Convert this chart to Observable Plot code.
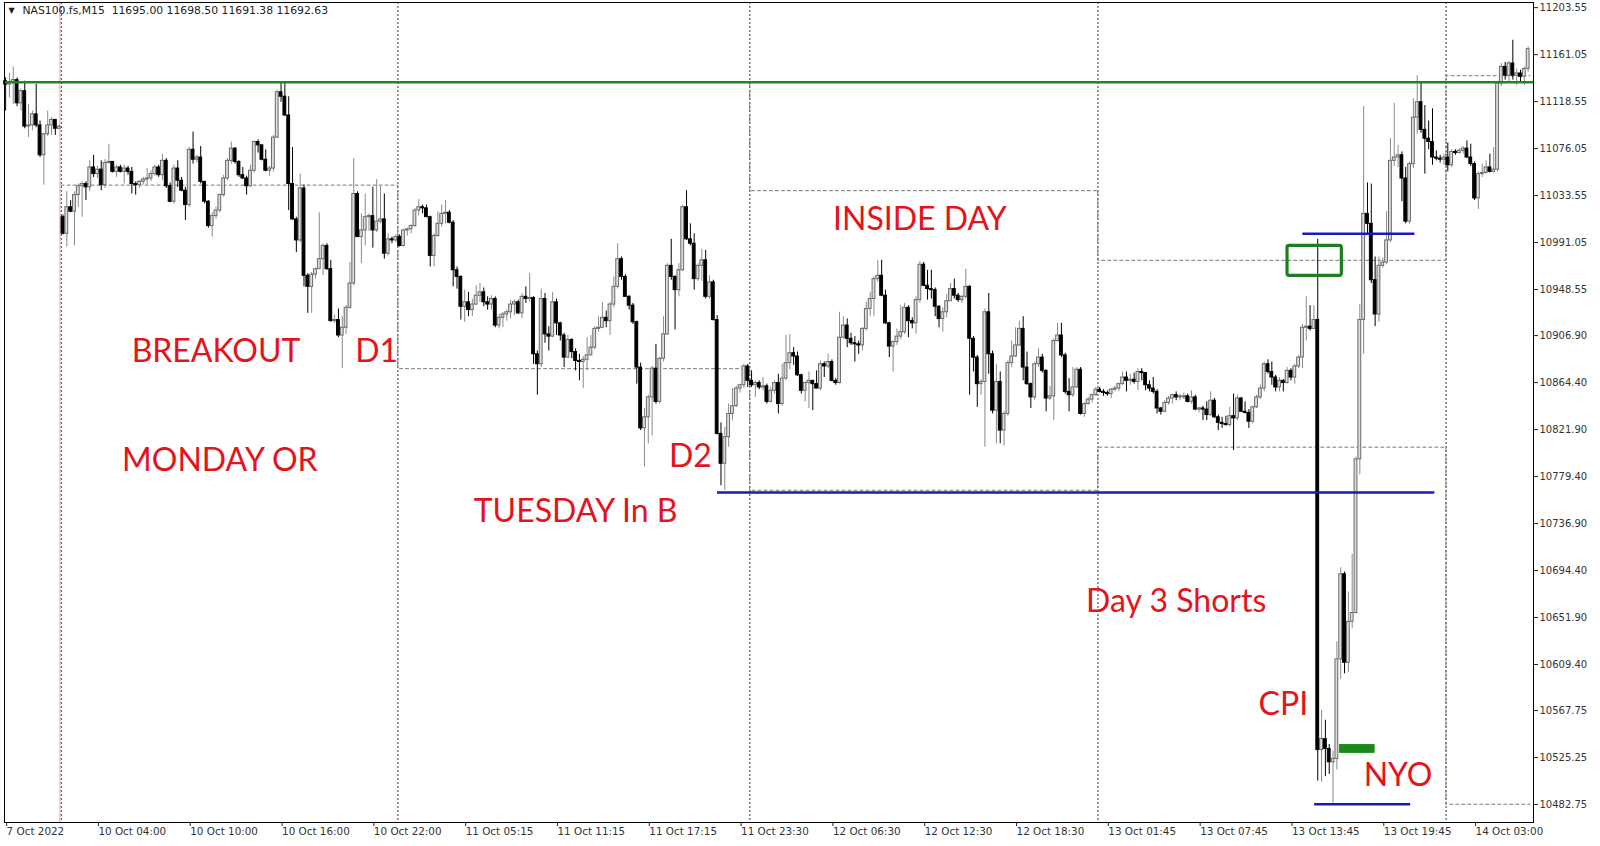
<!DOCTYPE html>
<html>
<head>
<meta charset="utf-8">
<script src="https://cdn.jsdelivr.net/npm/d3@7"></script>
<script src="https://cdn.jsdelivr.net/npm/@observablehq/plot@0.6"></script>
<style>
  html, body { margin: 0; padding: 0; background: #fff; }
  #chart { width: 1600px; height: 846px; }
</style>
</head>
<body>
<div id="chart"></div>
<script>
// ---------- DATA (NAS100 M15, [open, high, low, close]) ----------
const fri7 = [
 [11137,11140,11110,11134],[11134,11144,11122,11136],[11136,11150,11116,11138],[11138,11140,11114,11117],
 [11117,11130,11110,11128],[11128,11137,11094,11096],[11096,11116,11086,11097],[11097,11110,11092,11107],
 [11107,11134,11095,11097],[11097,11101,11068,11070],[11070,11090,11043,11089],[11089,11110,11087,11097],
 [11097,11104,11088,11102],[11102,11102,11088,11094],[11094,11097,11093,11096]
];
const mon10 = [
 [11014,11016,10998,10999],[10999,11037,10987,11023],[11023,11029,11018,11019],[11019,11037,10988,11034],
 [11034,11044,11023,11042],[11042,11046,11014,11044],[11044,11046,11029,11041],[11041,11065,11037,11059],
 [11059,11070,11050,11053],[11053,11060,11049,11057],[11057,11065,11038,11043],[11043,11066,11040,11063],
 [11063,11080,11062,11064],[11064,11064,11054,11055],[11055,11061,11050,11059],[11059,11061,11054,11055],
 [11055,11061,11044,11058],[11058,11060,11052,11055],[11055,11059,11035,11044],[11044,11046,11034,11043],
 [11043,11047,11040,11046],[11046,11050,11043,11048],[11048,11058,11043,11049],[11049,11056,11046,11053],
 [11053,11061,11051,11059],[11059,11061,11050,11052],[11052,11071,11047,11065],[11065,11067,11040,11042],
 [11042,11045,11027,11028],[11028,11061,11026,11058],[11058,11065,11041,11047],[11047,11050,11037,11038],
 [11038,11041,11011,11025],[11025,11077,11023,11075],[11075,11091,11062,11066],[11066,11070,11063,11068],
 [11068,11078,11044,11046],[11046,11046,11026,11028],[11028,11029,11004,11006],[11006,11018,10996,11015],
 [11015,11023,11012,11020],[11020,11035,11018,11034],[11034,11052,11032,11049],[11049,11067,11047,11065],
 [11065,11082,11062,11076],[11076,11077,11062,11064],[11064,11065,11050,11052],[11052,11059,11048,11049],
 [11049,11051,11034,11042],[11042,11061,11041,11056],[11056,11083,11054,11082],[11082,11084,11072,11079],
 [11079,11079,11065,11066],[11066,11075,11055,11056],[11056,11060,11051,11058],[11058,11088,11055,11086],
 [11086,11129,11085,11127],[11127,11136,11118,11123],[11123,11136,11105,11106],[11106,11123,11020,11044],
 [11044,11077,11011,11012],[11012,11014,10982,10993],[10993,11053,10991,11040],[11040,11043,10951,10961],
 [10961,10963,10927,10951],[10951,10964,10927,10962],[10962,10968,10958,10967],[10967,11018,10967,10976],
 [10976,10990,10961,10988],[10988,10990,10966,10967],[10967,10975,10919,10920],[10920,10925,10918,10921],
 [10921,10931,10905,10907],[10907,10924,10877,10914],[10914,10934,10908,10932],[10932,10973,10931,10954],
 [10954,11067,10952,11035],[11035,11037,10996,10996],[10996,11017,10972,11002],[11002,11035,10988,11014],
 [11014,11017,11001,11015],[11015,11041,10986,11002],[11002,11048,11000,11010],[11010,11042,11008,11012],
 [11012,11035,10976,10981],[10981,10999,10979,10994],[10994,10996,10990,10993],[10993,10998,10991,10996]
];
const tue11 = [
 [10996,10998,10987,10988],[10988,11003,10987,11002],[11002,11004,10997,11003],[11003,11007,10999,11006],
 [11006,11022,11005,11020],[11020,11030,11015,11023],[11023,11025,11017,11022],[11022,11025,11014,11014],
 [11014,11015,10969,10979],[10979,10999,10969,10997],[10997,11019,10996,11008],[11008,11025,11005,11017],
 [11017,11029,11008,11018],[11018,11020,11008,11009],[11009,11011,10951,10966],[10966,10969,10949,10960],
 [10960,10961,10921,10933],[10933,10948,10919,10937],[10937,10946,10924,10930],[10930,10940,10924,10935],
 [10935,10952,10934,10943],[10943,10954,10937,10946],[10946,10950,10933,10937],[10937,10942,10930,10935],
 [10935,10943,10930,10940],[10940,10942,10914,10916],[10916,10926,10913,10923],[10923,10928,10914,10926],
 [10926,10930,10920,10928],[10928,10939,10922,10935],[10935,10939,10925,10937],[10937,10939,10926,10927],
 [10927,10945,10922,10942],[10942,10951,10936,10940],[10940,10963,10937,10941],[10941,10942,10881,10890],
 [10890,10893,10853,10881],[10881,10949,10878,10940],[10940,10945,10900,10908],[10908,10915,10893,10906],
 [10906,10946,10905,10937],[10937,10940,10907,10918],[10918,10919,10902,10907],[10907,10909,10878,10887],
 [10887,10907,10887,10903],[10903,10904,10886,10892],[10892,10895,10875,10884],[10884,10890,10866,10883],
 [10883,10888,10859,10885],[10885,10905,10875,10889],[10889,10907,10889,10896],[10896,10915,10894,10913],
 [10913,10924,10910,10914],[10914,10937,10913,10923],[10923,10929,10914,10920],[10920,10937,10907,10935],
 [10935,10960,10932,10951],[10951,10990,10949,10976],[10976,10978,10957,10960],[10960,10962,10942,10942],
 [10942,10943,10930,10934],[10934,10936,10917,10919],[10919,10920,10863,10878],[10878,10882,10821,10823],
 [10823,10841,10788,10833],[10833,10853,10809,10851],[10851,10879,10816,10877],[10877,10899,10845,10847],
 [10847,10887,10845,10886],[10886,10924,10883,10908],[10908,10972,10907,10970],[10970,10994,10957,10960],
 [10960,10961,10912,10948],[10948,10972,10942,10966],[10966,11025,10965,11023],[11023,11038,10993,10994],
 [10994,11008,10988,10990],[10990,10999,10948,10958],[10958,10972,10956,10970],[10970,10985,10956,10975],
 [10975,10984,10940,10942],[10942,10961,10940,10955],[10955,10957,10920,10921],[10921,10925,10817,10818],
 [10818,10828,10771,10791],[10791,10824,10767,10815],[10815,10845,10806,10836],[10836,10859,10830,10843],
 [10843,10861,10842,10859],[10859,10863,10855,10862],[10862,10881,10859,10879],[10879,10881,10860,10866]
];
const wed12 = [
 [10866,10875,10860,10862],[10862,10866,10851,10864],[10864,10866,10858,10860],[10860,10869,10857,10861],
 [10861,10863,10845,10847],[10847,10860,10846,10857],[10857,10866,10854,10864],[10864,10872,10836,10845],
 [10845,10881,10843,10868],[10868,10907,10866,10882],[10882,10908,10876,10891],[10891,10896,10880,10888],
 [10888,10892,10870,10871],[10871,10872,10854,10857],[10857,10865,10847,10864],[10864,10874,10841,10866],
 [10866,10866,10839,10863],[10863,10875,10859,10859],[10859,10884,10857,10881],[10881,10883,10869,10879],
 [10879,10890,10877,10883],[10883,10885,10865,10866],[10866,10868,10862,10864],[10864,10928,10863,10905],
 [10905,10924,10904,10916],[10916,10922,10896,10904],[10904,10909,10898,10900],[10900,10906,10883,10899],
 [10899,10902,10890,10898],[10898,10914,10893,10913],[10913,10937,10911,10931],[10931,10946,10924,10940],
 [10940,10960,10924,10958],[10958,10975,10955,10961],[10961,10975,10942,10943],[10943,10948,10917,10918],
 [10918,10919,10887,10897],[10897,10902,10874,10901],[10901,10913,10898,10906],[10906,10934,10903,10910],
 [10910,10936,10908,10932],[10932,10934,10905,10920],[10920,10923,10913,10918],[10918,10942,10908,10939],
 [10939,10974,10936,10971],[10971,10973,10951,10952],[10952,10966,10939,10949],[10949,10966,10940,10948],
 [10948,10950,10924,10933],[10933,10934,10914,10922],[10922,10932,10910,10928],[10928,10944,10923,10938],
 [10938,10954,10938,10949],[10949,10958,10940,10943],[10943,10945,10937,10939],[10939,10943,10936,10942],
 [10942,10967,10940,10951],[10951,10952,10853,10904],[10904,10906,10874,10887],[10887,10889,10842,10863],
 [10863,10867,10853,10865],[10865,10931,10806,10928],[10928,10945,10872,10890],[10890,10893,10836,10839],
 [10839,10881,10809,10865],[10865,10874,10809,10821],[10821,10838,10807,10836],[10836,10884,10834,10882],
 [10882,10902,10878,10888],[10888,10914,10887,10898],[10898,10920,10897,10913],[10913,10924,10866,10878],
 [10878,10892,10862,10863],[10863,10864,10841,10851],[10851,10883,10848,10881],[10881,10895,10878,10887],
 [10887,10890,10873,10875],[10875,10876,10838,10850],[10850,10861,10848,10852],[10852,10904,10830,10902],
 [10902,10918,10901,10907],[10907,10918,10887,10889],[10889,10891,10854,10856],[10856,10868,10838,10853],
 [10853,10878,10851,10860],[10860,10878,10859,10876],[10876,10878,10835,10836],[10836,10846,10833,10845],
 [10845,10851,10844,10849],[10849,10854,10846,10853],[10853,10860,10852,10858]
];
const thu13 = [
 [10858,10860,10855,10856],[10856,10858,10852,10855],[10855,10857,10852,10854],[10854,10859,10850,10858],
 [10858,10861,10856,10859],[10859,10864,10856,10863],[10863,10874,10862,10869],[10869,10874,10856,10866],
 [10866,10872,10862,10867],[10867,10873,10863,10865],[10865,10877,10857,10874],[10874,10877,10866,10873],
 [10873,10873,10857,10862],[10862,10866,10856,10859],[10859,10869,10854,10856],[10856,10858,10836,10841],
 [10841,10842,10835,10838],[10838,10848,10837,10846],[10846,10852,10844,10850],[10850,10854,10845,10853],
 [10853,10856,10848,10851],[10851,10854,10848,10851],[10851,10855,10849,10852],[10852,10854,10846,10847],
 [10847,10857,10845,10851],[10851,10853,10839,10840],[10840,10842,10837,10841],[10841,10843,10830,10840],
 [10840,10847,10830,10835],[10835,10856,10834,10848],[10848,10850,10832,10833],[10833,10835,10821,10828],
 [10828,10833,10823,10827],[10827,10834,10825,10826],[10826,10842,10824,10834],[10834,10854,10803,10832],
 [10832,10853,10830,10850],[10850,10851,10838,10838],[10838,10847,10836,10837],[10837,10840,10823,10829],
 [10829,10843,10827,10842],[10842,10853,10841,10851],[10851,10862,10849,10859],[10859,10883,10856,10881],
 [10881,10885,10872,10874],[10874,10883,10862,10869],[10869,10871,10856,10860],[10860,10869,10856,10866],
 [10866,10867,10856,10864],[10864,10878,10863,10875],[10875,10877,10866,10869],[10869,10881,10863,10879],
 [10879,10889,10877,10887],[10887,10917,10877,10914],[10914,10942,10902,10915],[10915,10934,10911,10913],
 [10913,10934,10913,10921],[10921,10994,10504,10532],[10532,10568,10503,10542],[10542,10559,10508,10533],
 [10533,10537,10510,10521],[10521,10531,10484,10524],[10524,10630,10514,10614],[10614,10697,10596,10691],
 [10691,10693,10601,10611],[10611,10675,10602,10648],[10648,10709,10642,10656],[10656,10797,10655,10795],
 [10795,10935,10781,10921],[10921,11114,10890,11017],[11017,11045,10999,11008],[11008,11044,10954,10957],
 [10957,10978,10915,10926],[10926,10978,10919,10970],[10970,10977,10968,10973],[10973,11019,10971,10993],
 [10993,11085,10991,11065],[11065,11117,11060,11068],[11068,11079,11059,11070],[11070,11073,11028,11049],
 [11049,11059,11008,11010],[11010,11064,11008,11062],[11062,11121,11058,11104],[11104,11142,11089,11118],
 [11118,11136,11090,11093],[11093,11115,11053,11085],[11085,11101,11075,11082],[11082,11112,11061,11068],
 [11068,11074,11065,11067],[11067,11070,11063,11066],[11066,11071,11061,11068]
];
const fri14 = [
 [11068,11081,11055,11061],[11061,11075,11059,11073],[11073,11075,11070,11072],[11072,11076,11071,11074],
 [11074,11078,11071,11076],[11076,11083,11067,11068],[11068,11080,11060,11062],[11062,11064,11029,11031],
 [11031,11055,11021,11053],[11053,11062,11050,11054],[11054,11065,11053,11059],[11059,11071,11054,11055],
 [11055,11077,11054,11057],[11057,11137,11055,11135],[11135,11153,11132,11150],[11150,11154,11138,11142],
 [11142,11155,11136,11153],[11153,11174,11138,11142],[11142,11148,11133,11144],[11144,11147,11135,11141],
 [11141,11150,11133,11148],[11148,11168,11145,11166]
];

// Axis ticks
const yTicks = [11203.55,11161.05,11118.55,11076.05,11033.55,10991.05,10948.55,10906.90,10864.40,
                10821.90,10779.40,10736.90,10694.40,10651.90,10609.40,10567.75,10525.25,10482.75];
const xTickIdx = [0,24,48,72,96,120,144,168,192,216,240,264,288,312,336,360,384];
const xTickLabels = ["7 Oct 2022","10 Oct 04:00","10 Oct 10:00","10 Oct 16:00","10 Oct 22:00",
  "11 Oct 05:15","11 Oct 11:15","11 Oct 17:15","11 Oct 23:30","12 Oct 06:30","12 Oct 12:30",
  "12 Oct 18:30","13 Oct 01:45","13 Oct 07:45","13 Oct 13:45","13 Oct 19:45","14 Oct 03:00"];

// Day starts (bar index) and previous-day high / low levels
const dayStart = [15, 103, 195, 286, 377];
const lastBar = 398;
const prevDayHigh = [null, 11136, 11038, 10975, 11142];
const prevDayLow  = [11043, 10877, 10767, 10806, 10483];
const weekStart = [14.2];

// Drawn objects
const greenLevel = [11136];
const blueLines = [
  {p: 10765, from: 186.1, to: 373.6},
  {p: 10999, from: 339.1, to: 368.4},
  {p: 10483, from: 342.2, to: 367.3}
];
const greenBox = [{from: 335.1, to: 349.3, lo: 10961, hi: 10988}];
const greenBar = [{from: 348.7, to: 358.0, lo: 10529, hi: 10537}];

const notes = [
  {text: "BREAKOUT", i: 55, p: 10892},
  {text: "D1", i: 97, p: 10892},
  {text: "MONDAY OR", i: 56, p: 10794},
  {text: "D2", i: 179, p: 10797},
  {text: "TUESDAY In B", i: 149, p: 10748},
  {text: "INSIDE DAY", i: 239, p: 11012},
  {text: "Day 3 Shorts", i: 306, p: 10666},
  {text: "CPI", i: 334, p: 10573},
  {text: "NYO", i: 364, p: 10509}
];
const header = "NAS100.fs,M15  11695.00 11698.50 11691.38 11692.63";

// ---------- BUILD ----------
const candles = [...fri7, ...mon10, ...tue11, ...wed12, ...thu13, ...fri14]
  .map((d, i) => ({i, o: d[0], h: d[1], l: d[2], c: d[3]}));
const bull = candles.filter(d => d.c >= d.o);
const bear = candles.filter(d => d.c < d.o);

const highPts = [], lowPts = [];
dayStart.forEach((s, k) => {
  if (prevDayHigh[k] != null) highPts.push({x: s - 0.5, y: prevDayHigh[k]});
  lowPts.push({x: s - 0.5, y: prevDayLow[k]});
});
highPts.push({x: lastBar + 0.5, y: prevDayHigh[prevDayHigh.length - 1]});
lowPts.push({x: lastBar + 0.5, y: prevDayLow[prevDayLow.length - 1]});

const bodyTop = d => Math.abs(d.c - d.o) < 0.9 ? d.o + 0.9 : d.c;
const hw = 0.37;

const chart = Plot.plot({
  width: 1600,
  height: 846,
  marginLeft: 4,
  marginRight: 67,
  marginTop: 2,
  marginBottom: 24,
  style: {fontFamily: "DejaVu Sans", fontSize: "10px", background: "#fff", color: "#222"},
  x: {domain: [-0.29, 399.4]},
  y: {domain: [10466.5, 11208.2]},
  marks: [
    // day separators
    Plot.ruleX(dayStart, {x: d => d - 0.45, stroke: "#333", strokeDasharray: "2,2", strokeWidth: 1}),
    Plot.ruleX(weekStart, {stroke: "#e6a3bf", strokeWidth: 1}),
    // previous day levels
    Plot.line(highPts, {x: "x", y: "y", curve: "step-after", stroke: "#7a7a7a", strokeDasharray: "3,3", strokeWidth: 1, clip: true}),
    Plot.line(lowPts, {x: "x", y: "y", curve: "step-after", stroke: "#7a7a7a", strokeDasharray: "3,3", strokeWidth: 1, clip: true}),
    // wicks
    Plot.ruleX(bull, {x: "i", y1: d => Math.min(d.l, d.o, d.c), y2: d => Math.max(d.h, d.o, d.c), stroke: "#8a8a8a", strokeWidth: 1}),
    Plot.ruleX(bear, {x: "i", y1: d => Math.min(d.l, d.o, d.c), y2: d => Math.max(d.h, d.o, d.c), stroke: "#000", strokeWidth: 1}),
    // bodies
    Plot.rect(bull, {x1: d => d.i - hw, x2: d => d.i + hw, y1: "o", y2: bodyTop, fill: "#dcdcdc", stroke: "#6a6a6a", strokeWidth: 1}),
    Plot.rect(bear, {x1: d => d.i - hw, x2: d => d.i + hw, y1: "o", y2: "c", fill: "#000", stroke: "#000", strokeWidth: 1}),
    // annotation objects
    Plot.ruleY(greenLevel, {stroke: "#1a8a1a", strokeWidth: 2.5}),
    Plot.ruleY(blueLines, {y: "p", x1: "from", x2: "to", stroke: "#1b1bb3", strokeWidth: 2.5}),
    Plot.rect(greenBox, {x1: "from", x2: "to", y1: "lo", y2: "hi", fill: "none", stroke: "#1e7d1e", strokeWidth: 3.2, rx: 2}),
    Plot.rect(greenBar, {x1: "from", x2: "to", y1: "lo", y2: "hi", fill: "#1a8a1a"}),
    // labels
    Plot.text(notes, {x: "i", y: "p", text: "text", fill: "#e3141b", fontSize: 32, fontFamily: "Lato"}),
    Plot.text(["▼"], {frameAnchor: "top-left", dx: 4, dy: 5, textAnchor: "start", lineAnchor: "top", fontSize: 8, fill: "#222"}),
    Plot.text([header], {frameAnchor: "top-left", dx: 18, dy: 4, textAnchor: "start", lineAnchor: "top", fontSize: 10.8, fill: "#222"}),
    // axes
    Plot.axisY({anchor: "right", ticks: yTicks, tickFormat: d => d.toFixed(2), tickSize: 4, tickPadding: 2, label: null, fontSize: 10, fill: "#333"}),
    Plot.axisX({ticks: xTickIdx, tickFormat: d => xTickLabels[xTickIdx.indexOf(d)], textAnchor: "start", tickSize: 4, tickPadding: 1, dx: 1, label: null, fontSize: 10.4, fill: "#333"}),
    Plot.frame({stroke: "#000", strokeWidth: 1})
  ]
});
document.getElementById("chart").appendChild(chart);
</script>
</body>
</html>
